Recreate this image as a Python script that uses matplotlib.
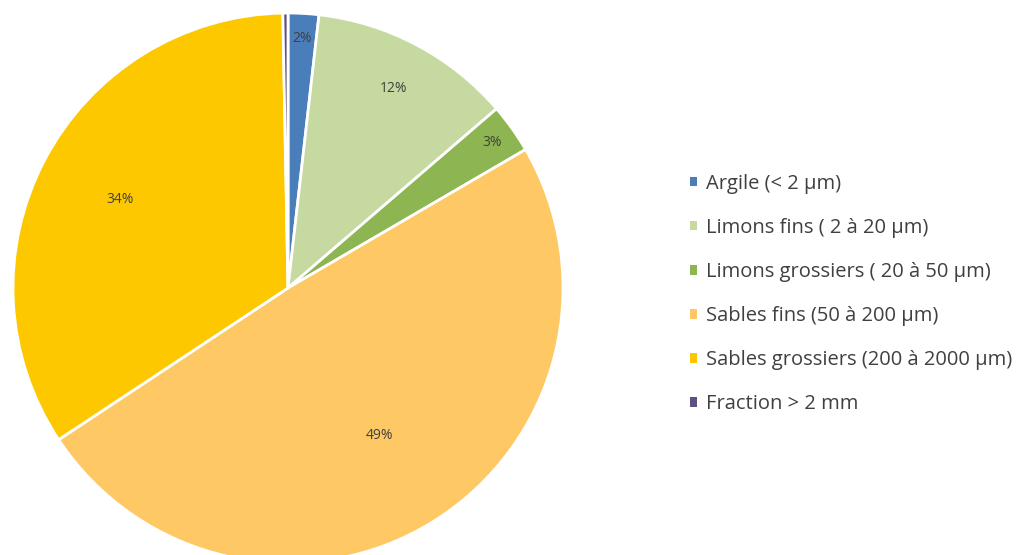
import matplotlib.pyplot as plt
from matplotlib.patches import Rectangle
import numpy as np

# données
categories = ['Argile (< 2 µm)', 'Limons fins ( 2 à 20 µm)', 'Limons grossiers ( 20 à 50 µm)',
              'Sables fins (50 à 200 µm)', 'Sables grossiers (200 à 2000 µm)', 'Fraction > 2 mm']
values = [1.8, 11.9, 2.9, 49.1, 34.0, 0.3]
pct_labels = ['2%', '12%', '3%', '49%', '34%', '']

colors = ['#4a7ebb', '#c5d9a0', '#8db652', '#fec864', '#fec800', '#5f5082']
label_r = [0.91, 0.82, 0.91, 0.63, 0.69, 0.9]

plt.rcParams['font.family'] = ['Open Sans', 'DejaVu Sans']

fig = plt.figure(figsize=(10.27, 5.55), dpi=100)
W, H = 1027, 555
cx, cy, r = 288, 288, 275
ax = fig.add_axes([(cx - r) / W, (H - cy - r) / H, 2 * r / W, 2 * r / H])

wedges, _ = ax.pie(values, colors=colors, startangle=90, counterclock=False, radius=1,
                   wedgeprops=dict(edgecolor='white', linewidth=2))
ax.set_xlim(-1, 1)
ax.set_ylim(-1, 1)
ax.axis('off')

for w, txt, rr in zip(wedges, pct_labels, label_r):
    ang = np.deg2rad((w.theta1 + w.theta2) / 2)
    ax.text(rr * np.cos(ang), rr * np.sin(ang), txt, ha='center', va='center',
            fontsize=10, color='#404040')

# carrés de légende sans bord blanc
handles = [Rectangle((0, 0), 1, 1, facecolor=c, edgecolor='none') for c in colors]
fig.legend(handles, categories, loc='center left', bbox_to_anchor=(680 / W, 1 - 294 / H),
           frameon=False, fontsize=14.5, labelcolor='#404040', handlelength=0.36,
           handleheight=0.36, handletextpad=0.45, labelspacing=1.2, borderpad=0)

fig.savefig('out.png', dpi=100)
